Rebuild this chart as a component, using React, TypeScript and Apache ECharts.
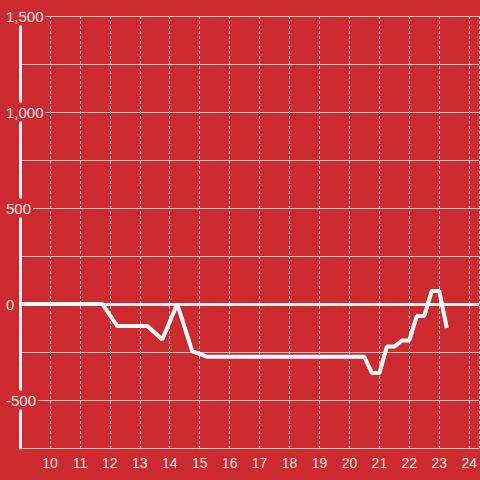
import React, { useEffect, useRef } from "react";
import * as echarts from "echarts";

const hours = [9, 11.75, 12.25, 13.25, 13.75, 14.25, 14.75, 15.25, 20.5, 20.75, 21, 21.25, 21.5, 21.75, 22, 22.25, 22.5, 22.75, 23, 23.25];
const values = [0, 0, -115, -115, -185, 0, -245, -275, -275, -360, -360, -222, -222, -190, -190, -62, -62, 68, 68, -125];
const yLabelValues = [-500, 0, 500, 1000, 1500];

const BG = "#cc2a2f";
const GRID = "#c9c9c9";
const TEXT = "#f3e6e6";

export default function App() {
  const ref = useRef<HTMLDivElement>(null);
  useEffect(() => {
    if (!ref.current) return;
    const chart = echarts.init(ref.current, undefined, { renderer: "svg" });
    chart.setOption({
      animation: false,
      backgroundColor: BG,
      grid: { left: 20, right: 0, top: 16, bottom: 32, containLabel: false },
      xAxis: {
        type: "value",
        min: 9,
        max: 24 + 1 / 3,
        interval: 1,
        axisLine: { show: true, onZero: false, lineStyle: { color: GRID, width: 1 } },
        axisTick: { show: false },
        axisLabel: {
          color: TEXT,
          fontSize: 14,
          fontFamily: "Liberation Sans, Arial, sans-serif",
          margin: 8,
          showMinLabel: false,
          showMaxLabel: false,
        },
        splitLine: { show: true, lineStyle: { color: GRID, width: 1, type: [3, 2] } },
      },
      yAxis: {
        type: "value",
        min: -750,
        max: 1500,
        interval: 250,
        axisLine: { show: true, lineStyle: { color: "#f4f4f4", width: 3 } },
        axisTick: { show: false },
        axisLabel: {
          align: "left",
          margin: 14,
          formatter: (v: number) =>
            yLabelValues.indexOf(v) >= 0 ? "{a|" + v.toLocaleString("en-US") + "}" : "",
          rich: {
            a: {
              color: TEXT,
              fontSize: 15,
              fontFamily: "Liberation Sans, Arial, sans-serif",
              backgroundColor: BG,
              padding: [2, 2, 2, 0],
            },
          },
        },
        splitLine: { show: true, lineStyle: { color: GRID, width: 1 } },
      },
      series: [
        {
          type: "line",
          data: hours.map((h, i) => [h, values[i]]),
          showSymbol: false,
          lineStyle: { color: "#ffffff", width: 4 },
          markLine: {
            silent: true,
            symbol: ["none", "none"],
            label: { show: false },
            lineStyle: { color: "#eeeeee", width: 3, type: "solid" },
            data: [{ yAxis: 0 }],
            z: 1,
          },
          z: 3,
        },
      ],
    });
    return () => chart.dispose();
  }, []);
  return (
    <div
      ref={ref}
      style={{ position: "fixed", left: 0, top: 0, width: 480, height: 480 }}
    />
  );
}
